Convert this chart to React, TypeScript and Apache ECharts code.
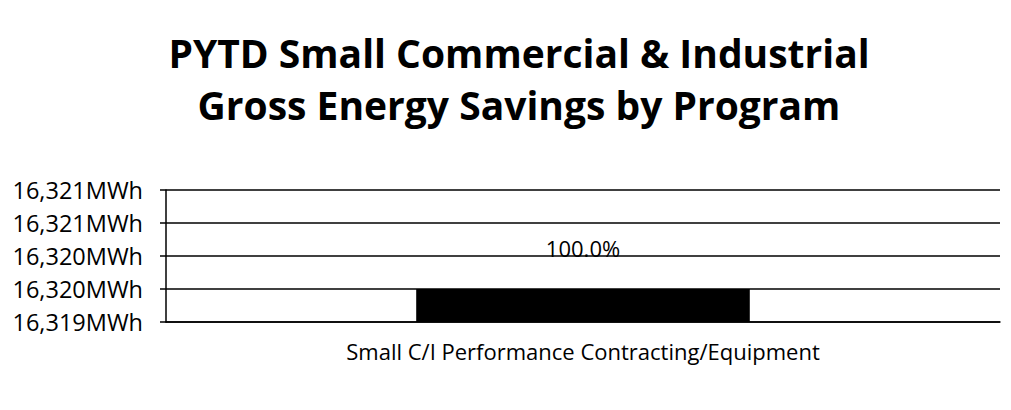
import React, { useEffect, useRef } from "react";
import * as echarts from "echarts";

const titleLines = ["PYTD Small Commercial & Industrial", "Gross Energy Savings by Program"];
const categories = ["Small C/I Performance Contracting/Equipment"];
const savingsMWh = [16319.5];
const yMin = 16319;
const yMax = 16321;
const yInterval = 0.5;
const unit = "MWh";

export default function App() {
  const ref = useRef<HTMLDivElement>(null);
  useEffect(() => {
    if (!ref.current) return;
    const chart = echarts.init(ref.current, null, { renderer: "svg" });
    const total = savingsMWh.reduce((a, b) => a + b, 0);
    chart.setOption({
      animation: false,
      backgroundColor: "#ffffff",
      title: {
        text: titleLines.join("\n"),
        left: 514,
        textAlign: "center",
        top: 21,
        textStyle: {
          fontFamily: "Open Sans",
          fontWeight: "bold",
          fontSize: 39,
          lineHeight: 52,
          color: "#000",
        },
      },
      graphic: {
        elements: [
          {
            type: "polyline",
            shape: { points: [[6, 409], [6, 4], [1010, 4]] },
            style: { stroke: "#000", lineWidth: 2, fill: null },
            silent: true,
            z: 10,
          },
        ],
      },
      grid: { left: 166, right: 11, top: 190, bottom: 88, containLabel: false },
      xAxis: {
        type: "category",
        data: categories,
        axisLine: { show: true, lineStyle: { color: "#000", width: 1.5 } },
        axisTick: { show: false },
        axisLabel: {
          color: "#000",
          fontFamily: "Open Sans",
          fontSize: 22,
          margin: 18,
        },
      },
      yAxis: {
        type: "value",
        min: yMin,
        max: yMax,
        interval: yInterval,
        axisLine: { show: true, lineStyle: { color: "#000", width: 1.5 } },
        axisTick: { show: true, length: 6, lineStyle: { color: "#000", width: 1.5 } },
        splitLine: { show: true, lineStyle: { color: "#000", width: 1.5 } },
        axisLabel: {
          color: "#000",
          fontFamily: "Open Sans",
          fontSize: 23.5,
          margin: 23,
          formatter: (v: number) => Math.round(v).toLocaleString("en-US") + unit,
        },
      },
      series: [
        {
          type: "bar",
          data: savingsMWh,
          barWidth: "40%",
          itemStyle: { color: "#000" },
          label: {
            show: true,
            position: "top",
            distance: 30,
            color: "#000",
            fontFamily: "Open Sans",
            fontSize: 22,
            formatter: (p: any) => ((p.value / total) * 100).toFixed(1) + "%",
          },
        },
      ],
    });
    return () => chart.dispose();
  }, []);
  return (
    <div style={{ position: "relative", width: 1011, height: 410, margin: -8 }}>
      <div ref={ref} style={{ width: 1011, height: 410 }} />
      <div
        style={{
          position: "absolute",
          left: 5,
          top: 3,
          width: 1011,
          height: 410,
          borderLeft: "2px solid #000",
          borderTop: "2px solid #000",
          pointerEvents: "none",
        }}
      />
    </div>
  );
}
